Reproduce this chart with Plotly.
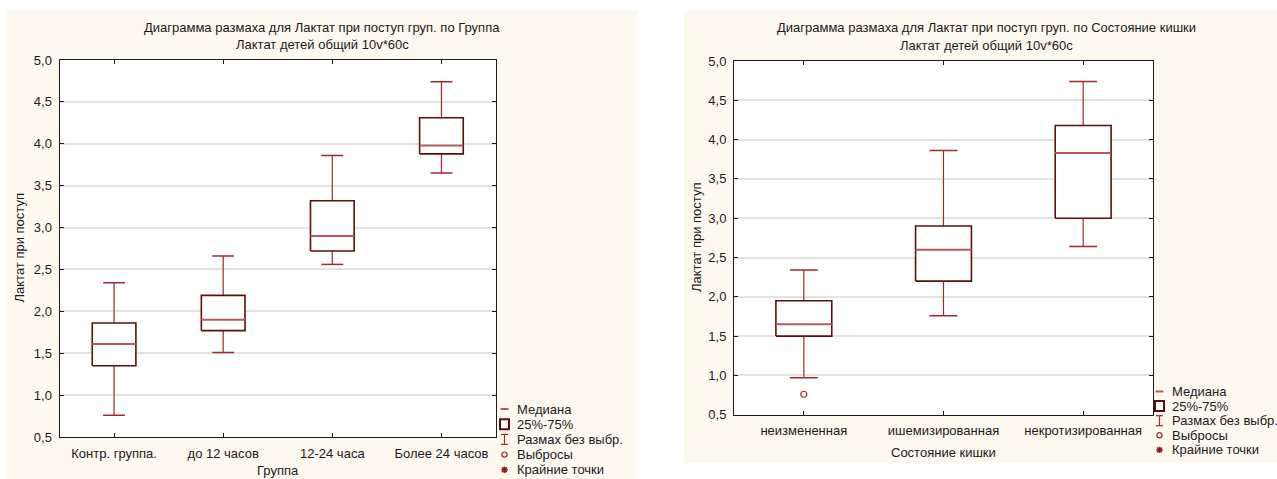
import plotly.graph_objects as go

# Lactate on admission by group
groups = ["Контр. группа.", "до 12 часов", "12-24 часа", "Более 24 часов"]
grp_low = [0.76, 1.51, 2.56, 3.65]
grp_q1 = [1.35, 1.77, 2.72, 3.88]
grp_med = [1.61, 1.90, 2.90, 3.98]
grp_q3 = [1.86, 2.19, 3.32, 4.31]
grp_high = [2.34, 2.66, 3.86, 4.74]

# Lactate on admission by bowel state
states = ["неизмененная", "ишемизированная", "некротизированная"]
st_low = [0.97, 1.76, 2.64]
st_q1 = [1.50, 2.20, 3.00]
st_med = [1.65, 2.60, 3.83]
st_q3 = [1.95, 2.90, 4.18]
st_high = [2.34, 3.86, 4.74]
st_out_cat = ["неизмененная"]
st_out_val = [0.76]

y_ticks = [0.5, 1.0, 1.5, 2.0, 2.5, 3.0, 3.5, 4.0, 4.5, 5.0]
legend_labels = ["Медиана", "25%-75%", "Размах без выбр.", "Выбросы", "Крайние точки"]

W, H = 1277, 479
FONT = "Liberation Sans, Arial, sans-serif"
TXT = "#1a1a1a"
CREAM = "#fef9ee"
BOX_C = "#5c0e0e"
WHISK_C = "#a3282c"
MED_C = "#b5585c"
GRID_C = "#e3e3e3"

BOX_HALF = 0.2
CAP_HALF = 0.1


def px(x):
    return x / W


def py(y):
    return 1 - y / H


def add_boxes(fig, xa, ya, low, q1, med, q3, high):
    n = len(med)
    wx, wy, cx, cy, bx, by, mx, my = [], [], [], [], [], [], [], []
    for i in range(n):
        wx += [i, i, None, i, i, None]
        wy += [low[i], q1[i], None, q3[i], high[i], None]
        cx += [i - CAP_HALF, i + CAP_HALF, None, i - CAP_HALF, i + CAP_HALF, None]
        cy += [low[i], low[i], None, high[i], high[i], None]
        bx += [i - BOX_HALF, i + BOX_HALF, i + BOX_HALF, i - BOX_HALF, i - BOX_HALF, None]
        by += [q1[i], q1[i], q3[i], q3[i], q1[i], None]
        mx += [i - BOX_HALF, i + BOX_HALF, None]
        my += [med[i], med[i], None]
    common = dict(xaxis=xa, yaxis=ya, mode="lines", showlegend=False, hoverinfo="skip")
    fig.add_trace(go.Scatter(x=wx, y=wy, line=dict(color=WHISK_C, width=1.2), **common))
    fig.add_trace(go.Scatter(x=cx, y=cy, line=dict(color=WHISK_C, width=1.5), **common))
    fig.add_trace(go.Scatter(x=bx, y=by, fill="toself", fillcolor="white",
                             line=dict(color=BOX_C, width=1.6), **common))
    fig.add_trace(go.Scatter(x=mx, y=my, line=dict(color=MED_C, width=2), **common))


fig = go.Figure()
add_boxes(fig, "x", "y", grp_low, grp_q1, grp_med, grp_q3, grp_high)
add_boxes(fig, "x2", "y2", st_low, st_q1, st_med, st_q3, st_high)
fig.add_trace(go.Scatter(
    x=[states.index(c) for c in st_out_cat], y=st_out_val, xaxis="x2", yaxis="y2",
    mode="markers", showlegend=False, hoverinfo="skip",
    marker=dict(symbol="circle-open", size=6, color=WHISK_C, line=dict(width=1.2))))

axis_common = dict(showline=True, mirror="ticks", linecolor=TXT, linewidth=1,
                   ticks="inside", ticklen=4, tickcolor=TXT, automargin=False,
                   tickfont=dict(size=13, color=TXT, family=FONT), zeroline=False)

left_dom_x = [px(59.5), px(496)]
left_dom_y = [py(437), py(60)]
right_dom_x = [px(734), px(1153)]
right_dom_y = [py(414.7), py(61)]

fig.update_layout(
    width=W, height=H, margin=dict(l=0, r=0, t=0, b=0, pad=0, autoexpand=False),
    paper_bgcolor="white", plot_bgcolor="white", separators=", ",
    font=dict(family=FONT, size=13, color=TXT),
    showlegend=False,
    xaxis=dict(domain=left_dom_x, anchor="y", range=[-0.5, len(groups) - 0.5],
               tickvals=list(range(len(groups))), ticktext=groups, showgrid=False,
               ticklabelstandoff=4, **axis_common),
    yaxis=dict(domain=left_dom_y, anchor="x", range=[0.5, 5.0], tickvals=y_ticks,
               tickformat=".1f", showgrid=True, gridcolor=GRID_C, gridwidth=1.5,
               ticklabelstandoff=4, **axis_common),
    xaxis2=dict(domain=right_dom_x, anchor="y2", range=[-0.5, len(states) - 0.5],
                tickvals=list(range(len(states))), ticktext=states, showgrid=False,
                ticklabelstandoff=4, **axis_common),
    yaxis2=dict(domain=right_dom_y, anchor="x2", range=[0.5, 5.0], tickvals=y_ticks,
                tickformat=".1f", showgrid=True, gridcolor=GRID_C, gridwidth=1.5,
                ticklabelstandoff=4, **axis_common),
)

shapes = [
    # panel backgrounds
    dict(type="rect", xref="paper", yref="paper", x0=px(7), x1=px(637), y0=py(479), y1=py(10),
         fillcolor=CREAM, line=dict(width=0), layer="below"),
    dict(type="rect", xref="paper", yref="paper", x0=px(684), x1=px(1277), y0=py(463), y1=py(10),
         fillcolor=CREAM, line=dict(width=0), layer="below"),
    dict(type="rect", xref="x domain", yref="y domain", x0=0, x1=1, y0=0, y1=1,
         fillcolor="white", line=dict(width=0), layer="below"),
    dict(type="rect", xref="x2 domain", yref="y2 domain", x0=0, x1=1, y0=0, y1=1,
         fillcolor="white", line=dict(width=0), layer="below"),
]

annotations = []


def text(x, y, s, size=13, xanchor="center", angle=0):
    annotations.append(dict(x=px(x), y=py(y), xref="paper", yref="paper", text=s,
                            showarrow=False, xanchor=xanchor, yanchor="middle",
                            textangle=angle, font=dict(size=size, color=TXT, family=FONT)))


# titles
text(322, 27.5, "Диаграмма размаха для Лактат при поступ груп. по Группа", 13)
text(322, 44.5, "Лактат детей общий 10v*60c", 13)
text(986, 28, "Диаграмма размаха для Лактат при поступ груп. по Состояние кишки", 13)
text(986, 45, "Лактат детей общий 10v*60c", 13)
# axis titles
text(19, 248.5, "Лактат при поступ", 13, angle=-90)
text(278, 470.5, "Группа", 13)
text(696, 238, "Лактат при поступ", 13, angle=-90)
text(943.5, 452.5, "Состояние кишки", 13)


def legend(gx, tx, y0, step):
    rows = [y0 + k * step for k in range(5)]
    line = lambda x0, y0_, x1, y1_, c, w: dict(
        type="line", xref="paper", yref="paper", x0=px(x0), y0=py(y0_), x1=px(x1), y1=py(y1_),
        line=dict(color=c, width=w))
    r = rows[0]
    shapes.append(line(gx - 4, r, gx + 4, r, MED_C, 2))
    r = rows[1]
    shapes.append(dict(type="rect", xref="paper", yref="paper", x0=px(gx - 4.5), x1=px(gx + 4.5),
                       y0=py(r + 5), y1=py(r - 5), fillcolor="white",
                       line=dict(color=BOX_C, width=2)))
    r = rows[2]
    shapes.append(line(gx, r - 5, gx, r + 5, WHISK_C, 1.2))
    shapes.append(line(gx - 3.5, r - 5, gx + 3.5, r - 5, WHISK_C, 1.2))
    shapes.append(line(gx - 3.5, r + 5, gx + 3.5, r + 5, WHISK_C, 1.2))
    r = rows[3]
    shapes.append(dict(type="circle", xref="paper", yref="paper", x0=px(gx - 2.6), x1=px(gx + 2.6),
                       y0=py(r + 2.6), y1=py(r - 2.6), line=dict(color=WHISK_C, width=1.2)))
    r = rows[4]
    s = 3.2
    shapes.append(line(gx, r - s, gx, r + s, "#8c1a1e", 1.6))
    shapes.append(line(gx - s, r, gx + s, r, "#8c1a1e", 1.6))
    shapes.append(line(gx - 2.4, r - 2.4, gx + 2.4, r + 2.4, "#8c1a1e", 1.6))
    shapes.append(line(gx - 2.4, r + 2.4, gx + 2.4, r - 2.4, "#8c1a1e", 1.6))
    for lbl, yy in zip(legend_labels, rows):
        text(tx, yy, lbl, 13, xanchor="left")


legend(504.5, 515, 409, 15.2)
legend(1159.5, 1170, 391.5, 14.6)

fig.update_layout(shapes=shapes, annotations=annotations)
fig.write_html("out.html")
